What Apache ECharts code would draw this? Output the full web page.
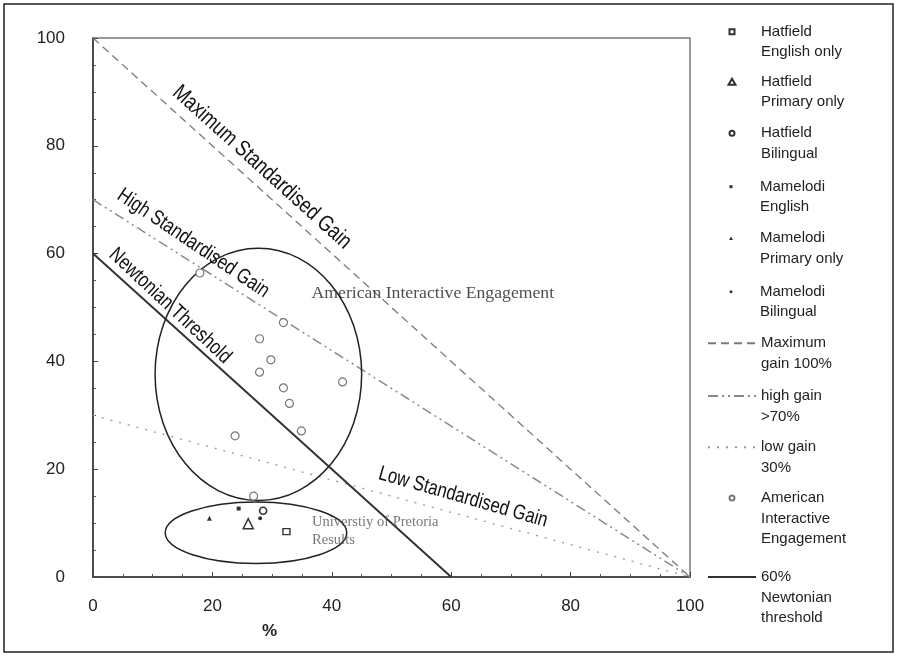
<!DOCTYPE html>
<html><head><meta charset="utf-8">
<script src="https://cdn.jsdelivr.net/npm/echarts@6/dist/echarts.min.js"></script>
<style>html,body{margin:0;padding:0;background:#fff}#c{width:897px;height:656px}</style>
</head><body><div id="c"></div>
<script>
// ---- data ----
const axisTicks = [0, 20, 40, 60, 80, 100];
const hatfieldEnglish = [[32.4, 8.4]];
const hatfieldPrimary = [[26.0, 9.9]];
const hatfieldBilingual = [[28.5, 12.3]];
const mamelodiEnglish = [[24.4, 12.7]];
const mamelodiPrimary = [[19.5, 10.9]];
const mamelodiBilingual = [[28.0, 10.9]];
const maxGainLine = [[0, 100], [100, 0]];
const highGainLine = [[0, 70], [100, 0]];
const lowGainLine = [[0, 30], [100, 0]];
const newtonianLine = [[0, 60], [60, 0]];
const americanIE = [[17.9, 56.4], [31.9, 47.2], [27.9, 44.2], [29.8, 40.3], [27.9, 38.0],
  [31.9, 35.1], [32.9, 32.2], [41.8, 36.2], [34.9, 27.1], [23.8, 26.2], [26.9, 15.0]];
// ellipses: [centerX, centerY, radiusX, radiusY]
const groupEllipses = [[27.7, 37.6, 17.3, 23.4], [27.3, 8.2, 15.2, 5.7]];
// line annotations: text, x, y, angle (deg)
const lineAnnotations = [
  ['Maximum Standardised Gain', 28.3, 76.0, 42],
  ['High Standardised Gain', 16.8, 61.9, 34],
  ['Newtonian Threshold', 12.9, 50.3, 43],
  ['Low Standardised Gain', 62.0, 14.8, 16]
];
const groupAnnotations = [
  ['American Interactive Engagement', 36.6, 52.7],
  ['Universtiy of Pretoria\nResults', 36.7, 8.5]
];
const names = ['Hatfield\nEnglish only', 'Hatfield\nPrimary only', 'Hatfield\nBilingual',
  'Mamelodi\nEnglish', 'Mamelodi\nPrimary only', 'Mamelodi\nBilingual',
  'Maximum\ngain 100%', 'high gain\n>70%', 'low gain\n30%',
  'American\nInteractive\nEngagement', '60%\nNewtonian\nthreshold'];

// ---- layout / style ----
const SANS = '"Liberation Sans", Arial, sans-serif';
const SERIF = '"Liberation Serif", "Times New Roman", serif';
const legendRowY = [31.7, 81.7, 133.3, 186.7, 238.3, 291.7, 343.3, 396, 447.3, 498, 577];
const lineSizes = [22.5, 21, 21, 21];
const LH = 20.5;
// legend icons in a 48x8 box (corner move-tos fix the box)
const BOX = 'M0,0 M48,8 ';
const legendIcons = [
  BOX + 'M21.5,1.5 L26.5,1.5 L26.5,6.5 L21.5,6.5 Z',
  BOX + 'M24,1 L27.5,7 L20.5,7 Z',
  BOX + 'M21.5,4 A2.5,2.5 0 1 1 26.5,4 A2.5,2.5 0 1 1 21.5,4 Z',
  BOX + 'M22.5,2.5 L25.5,2.5 L25.5,5.5 L22.5,5.5 Z',
  BOX + 'M24,2.3 L26,5.7 L22,5.7 Z',
  BOX + 'M22.5,4 A1.5,1.5 0 1 1 25.5,4 A1.5,1.5 0 1 1 22.5,4 Z',
  null, null, null,
  BOX + 'M21.5,4 A2.5,2.5 0 1 1 26.5,4 A2.5,2.5 0 1 1 21.5,4 Z',
  null
];
const chart = echarts.init(document.getElementById('c'), null, {renderer: 'canvas'});

function scatter(name, data, symbol, size, empty, color, bw) {
  return {
    name, type: 'scatter', data, symbol, symbolSize: size, z: 5,
    itemStyle: empty ? {color: '#fff', borderColor: color, borderWidth: bw, opacity: 1}
                     : {color: color, opacity: 1},
    emphasis: {disabled: true}, silent: true
  };
}
function line(name, data, color, width, type) {
  return {
    name, type: 'line', data, symbol: 'none', showSymbol: false, z: 3,
    lineStyle: {color, width, type}, itemStyle: {color}, emphasis: {disabled: true}, silent: true
  };
}
const legends = names.map((nm, i) => {
  const n = nm.split('\n').length;
  const item = {name: nm};
  if (legendIcons[i]) {
    item.icon = 'path://' + legendIcons[i];
  } else {
    item.itemStyle = {color: 'rgba(0,0,0,0)', borderColor: 'rgba(0,0,0,0)', opacity: 0};
  }
  return {
    orient: 'vertical', left: 707, top: legendRowY[i] - (2 * n - 1) * LH / 2, padding: 0,
    itemWidth: 48, itemHeight: 8, symbolKeepAspect: false, selectedMode: false,
    formatter: s => '\n'.repeat(n - 1) + s,
    textStyle: {fontFamily: SANS, fontSize: 15, color: '#222', lineHeight: LH},
    data: [item]
  };
});

const option = {
  backgroundColor: '#fff',
  animation: false,
  grid: {left: 93, right: 207, top: 38, bottom: 79, show: true, borderColor: '#777', borderWidth: 1.5},
  xAxis: {
    type: 'value', min: axisTicks[0], max: axisTicks[axisTicks.length - 1], interval: axisTicks[1] - axisTicks[0],
    name: '%', nameLocation: 'middle', nameGap: 46,
    nameTextStyle: {fontFamily: SANS, fontSize: 17, fontWeight: 'bold', color: '#222', padding: [0, 244, 0, 0]},
    axisLine: {show: true, lineStyle: {color: '#333', width: 1.5}},
    axisTick: {show: true, inside: true, length: 5, lineStyle: {color: '#444'}},
    minorTick: {show: true, splitNumber: 4, length: 3, lineStyle: {color: '#555'}},
    axisLabel: {fontFamily: SANS, fontSize: 17, color: '#222', margin: 21},
    splitLine: {show: false}
  },
  yAxis: {
    type: 'value', min: axisTicks[0], max: axisTicks[axisTicks.length - 1], interval: axisTicks[1] - axisTicks[0],
    axisLine: {show: true, lineStyle: {color: '#333', width: 1.5}},
    axisTick: {show: true, inside: true, length: 5, lineStyle: {color: '#444'}},
    minorTick: {show: true, splitNumber: 4, length: 3, lineStyle: {color: '#555'}},
    axisLabel: {fontFamily: SANS, fontSize: 17, color: '#222', margin: 28},
    splitLine: {show: false}
  },
  legend: legends,
  graphic: [{
    type: 'rect', x: 0, y: 0, shape: {x: 4, y: 4, width: 889, height: 648},
    style: {fill: 'none', stroke: '#222', lineWidth: 1.5}, silent: true
  }],
  series: [
    scatter(names[0], hatfieldEnglish, 'rect', [7, 6], true, '#333', 1.3),
    scatter(names[1], hatfieldPrimary, 'triangle', 10, true, '#333', 1.5),
    scatter(names[2], hatfieldBilingual, 'circle', 7, true, '#333', 1.6),
    scatter(names[3], mamelodiEnglish, 'rect', 4, false, '#333'),
    scatter(names[4], mamelodiPrimary, 'triangle', 5, false, '#333'),
    scatter(names[5], mamelodiBilingual, 'circle', 4, false, '#333'),
    line(names[6], maxGainLine, '#7a7a7a', 1.3, [8, 5]),
    line(names[7], highGainLine, '#8a8a8a', 1.5, [10, 4, 2, 4, 2, 4]),
    line(names[8], lowGainLine, '#999', 1.3, [2, 7]),
    scatter(names[9], americanIE, 'circle', 8, true, '#777', 1.2),
    line(names[10], newtonianLine, '#333', 2),
    {
      type: 'custom', name: 'ellipses', data: groupEllipses, silent: true, z: 4,
      encode: {x: 0, y: 1},
      renderItem: function (params, api) {
        const c = api.coord([api.value(0), api.value(1)]);
        const s = api.size([api.value(2), api.value(3)]);
        return {type: 'ellipse', shape: {cx: c[0], cy: c[1], rx: s[0], ry: s[1]},
          style: {fill: 'none', stroke: '#222', lineWidth: 1.5}};
      }
    },
    {
      type: 'custom', name: 'lineNotes', silent: true, z: 6,
      data: lineAnnotations.map(a => [a[1], a[2]]),
      encode: {x: 0, y: 1},
      renderItem: function (params, api) {
        const i = params.dataIndex;
        const p = api.coord([api.value(0), api.value(1)]);
        return {type: 'text', x: p[0], y: p[1], rotation: -lineAnnotations[i][3] * Math.PI / 180,
          scaleX: 0.8, scaleY: 1,
          style: {text: lineAnnotations[i][0], fontFamily: SANS, fontSize: lineSizes[i], fill: '#111',
            align: 'center', verticalAlign: 'middle'}};
      }
    },
    {
      type: 'scatter', name: 'groupNotes', symbolSize: 0, silent: true, z: 6,
      data: groupAnnotations.map((a, i) => ({name: a[0], value: [a[1], a[2]],
        label: i === 0 ? {fontSize: 17.7, color: '#222', lineHeight: 20}
                       : {fontSize: 14.5, color: '#555', lineHeight: 18}})),
      label: {show: true, position: 'inside', formatter: '{b}', fontFamily: SERIF,
        align: 'left', verticalAlign: 'middle'}
    }
  ]
};
chart.setOption(option);
</script></body></html>
